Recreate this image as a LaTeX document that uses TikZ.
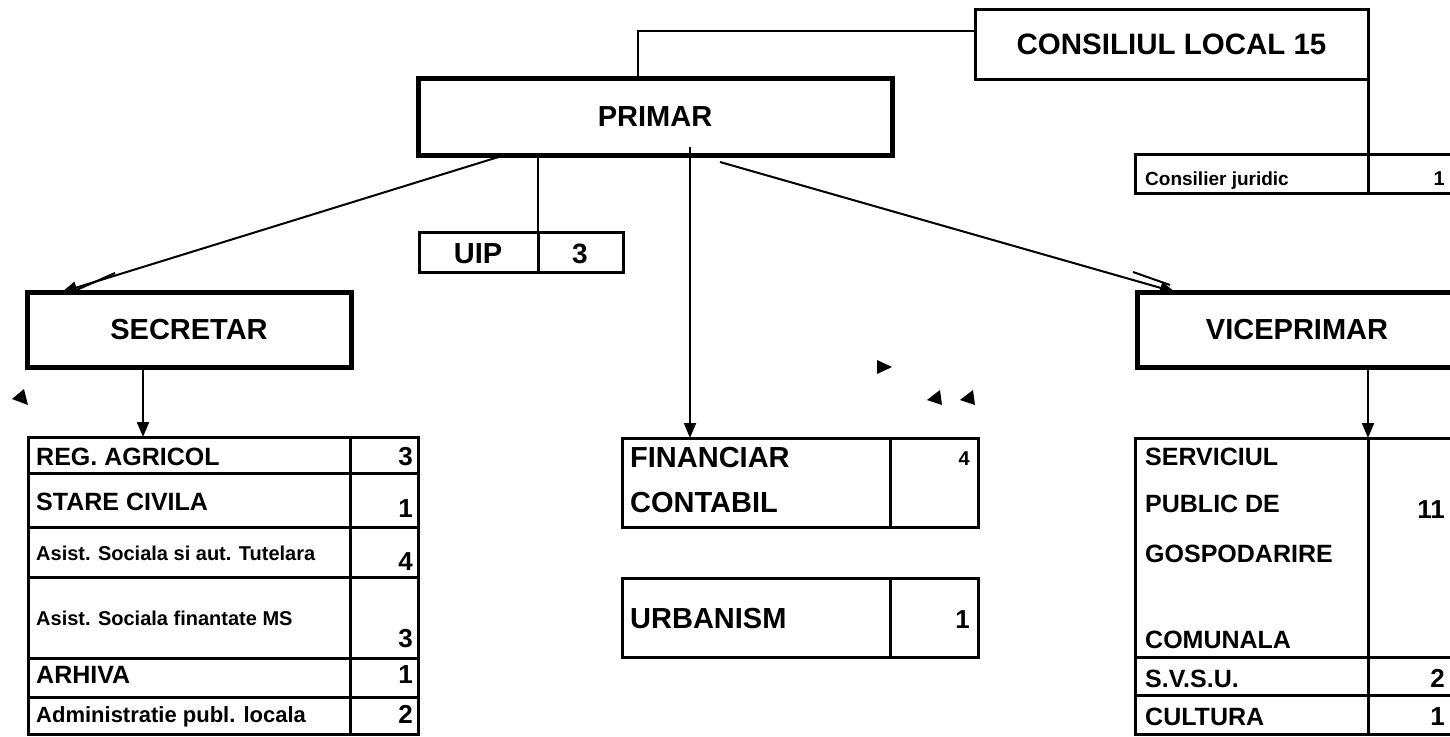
\documentclass[tikz,border=0pt]{standalone}
\usepackage{fontspec}
\setmainfont{Liberation Sans}
\usetikzlibrary{arrows.meta,calc}
\newcommand{\fsz}[1]{\bfseries\fontsize{#1}{#1}\selectfont}
\begin{document}
\begin{tikzpicture}[x=1pt,y=-1pt,
  cell/.style={draw, line width=3pt, rectangle, inner sep=0pt, outer sep=0pt, anchor=north west},
  bigbox/.style={draw, line width=5pt, rectangle, inner sep=0pt, outer sep=0pt, anchor=north west, font=\fsz{29}},
  conn/.style={line width=2pt},
  arr/.style={line width=2pt, -{Triangle[length=15pt,width=12pt]}},
  lt/.style={anchor=base west, inner sep=0pt},
  rt/.style={anchor=base east, inner sep=0pt},
  ct/.style={anchor=base, inner sep=0pt},
  stray/.style={fill=black}
]
\useasboundingbox (0,0) rectangle (1450,736);
\clip (0,0) rectangle (1450,736);

% top boxes
\node[cell, line width=3pt, minimum width=393pt, minimum height=70pt, font=\fsz{29.5}] (cons) at (975,9) {CONSILIUL LOCAL 15};
\node[bigbox, minimum width=474pt, minimum height=77pt] (primar) at (418,78) {PRIMAR};
\node[bigbox, minimum width=324pt, minimum height=75pt] (secr) at (27,292) {SECRETAR};
\node[bigbox, minimum width=320pt, minimum height=75pt] (vice) at (1137,292) {VICEPRIMAR};

% UIP
\node[cell, minimum width=119pt, minimum height=40pt] (uipa) at (419,232) {};
\node[cell, minimum width=85pt, minimum height=40pt] (uipb) at (538,232) {};
\node[ct, font=\fsz{29}] (uipt) at (478,263) {UIP};
\node[ct, font=\fsz{28}] (uipn) at (580,263) {3};

% Consilier juridic
\node[cell, minimum width=233pt, minimum height=39pt] (cja) at (1135,154) {};
\node[cell, minimum width=100pt, minimum height=39pt] (cjb) at (1368,154) {};
\node[lt, font=\fsz{19}] (cjt) at (1145,185) {Consilier juridic};
\node[rt, font=\fsz{20}] (cjn) at (1445,185) {1};

% left table
\node[cell, minimum width=322pt, minimum height=36pt] (l1a) at (28,437) {};
\node[cell, minimum width=68pt, minimum height=36pt] (l1b) at (350,437) {};
\node[cell, minimum width=322pt, minimum height=54pt] (l2a) at (28,473) {};
\node[cell, minimum width=68pt, minimum height=54pt] (l2b) at (350,473) {};
\node[cell, minimum width=322pt, minimum height=50pt] (l3a) at (28,527) {};
\node[cell, minimum width=68pt, minimum height=50pt] (l3b) at (350,527) {};
\node[cell, minimum width=322pt, minimum height=81pt] (l4a) at (28,577) {};
\node[cell, minimum width=68pt, minimum height=81pt] (l4b) at (350,577) {};
\node[cell, minimum width=322pt, minimum height=39pt] (l5a) at (28,658) {};
\node[cell, minimum width=68pt, minimum height=39pt] (l5b) at (350,658) {};
\node[cell, minimum width=322pt, minimum height=37pt] (l6a) at (28,697) {};
\node[cell, minimum width=68pt, minimum height=37pt] (l6b) at (350,697) {};
\node[lt, font=\fsz{25}] (t1) at (36,465) {REG. AGRICOL};
\node[rt, font=\fsz{26}] (n1) at (413,465) {3};
\node[lt, font=\fsz{25}] (t2) at (36,510) {STARE CIVILA};
\node[rt, font=\fsz{26}] (n2) at (413,517) {1};
\node[lt, font=\fsz{20}] (t3) at (36,560) {Asist. Sociala si aut. Tutelara};
\node[rt, font=\fsz{26}] (n3) at (413,570) {4};
\node[lt, font=\fsz{20}] (t4) at (36,625) {Asist. Sociala finantate MS};
\node[rt, font=\fsz{26}] (n4) at (413,647) {3};
\node[lt, font=\fsz{25}] (t5) at (36,683) {ARHIVA};
\node[rt, font=\fsz{26}] (n5) at (413,683) {1};
\node[lt, font=\fsz{22}] (t6) at (36,722) {Administratie publ. locala};
\node[rt, font=\fsz{26}] (n6) at (413,723) {2};

% middle tables
\node[cell, minimum width=268pt, minimum height=89pt] (fa) at (622,438) {};
\node[cell, minimum width=88pt, minimum height=89pt] (fb) at (890,438) {};
\node[cell, minimum width=268pt, minimum height=79pt] (ua) at (622,578) {};
\node[cell, minimum width=88pt, minimum height=79pt] (ub) at (890,578) {};
\node[lt, font=\fsz{29}] (ft1) at (630,467) {FINANCIAR};
\node[lt, font=\fsz{29}] (ft2) at (630,512) {CONTABIL};
\node[rt, font=\fsz{20}] (fn) at (970,465) {4};
\node[lt, font=\fsz{29}] (ut) at (630,628) {URBANISM};
\node[rt, font=\fsz{26}] (un) at (970,628) {1};

% right table
\node[cell, minimum width=233pt, minimum height=219pt] (r1a) at (1135,438) {};
\node[cell, minimum width=100pt, minimum height=219pt] (r1b) at (1368,438) {};
\node[cell, minimum width=233pt, minimum height=38pt] (r2a) at (1135,657) {};
\node[cell, minimum width=100pt, minimum height=38pt] (r2b) at (1368,657) {};
\node[cell, minimum width=233pt, minimum height=39pt] (r3a) at (1135,695) {};
\node[cell, minimum width=100pt, minimum height=39pt] (r3b) at (1368,695) {};
\node[lt, font=\fsz{25}] (s1) at (1145,465) {SERVICIUL};
\node[lt, font=\fsz{25}] (s2) at (1145,512) {PUBLIC DE};
\node[lt, font=\fsz{25}] (s3) at (1145,562) {GOSPODARIRE};
\node[lt, font=\fsz{25}] (s4) at (1145,648) {COMUNALA};
\node[rt, font=\fsz{26}] (sn) at (1445,518) {11};
\node[lt, font=\fsz{25}] (s5) at (1145,687) {S.V.S.U.};
\node[rt, font=\fsz{26}] (s5n) at (1445,687) {2};
\node[lt, font=\fsz{25}] (s6) at (1145,725) {CULTURA};
\node[rt, font=\fsz{26}] (s6n) at (1445,725) {1};

% connectors
\draw[conn] ($(cons.north west)+(0,22)$) -| ($(primar.north west)+(220,0)$);
\draw[line width=3pt] (cons.south east) -- (cja.north east);
\draw[conn] (uipa.north east |- primar.south) -- (uipa.north east);
\draw[arr] ($(primar.south west)+(87,0)$) -- ($(secr.north west)+(35,0)$);
\draw[arr] ($(primar.south west)+(302,7)$) -- ($(vice.north west)+(38,0)$);
\draw[arr] ($(primar.south west)+(272,-8)$) -- ($(fa.north west)+(68,0)$);
\draw[arr] ($(secr.south west)+(116,0)$) -- ($(l1a.north west)+(115,0)$);
\draw[arr] ($(vice.south west)+(231,0)$) -- (r1a.north east);
% artefact strokes beside the diagonal arrow heads
\draw[conn] ($(secr.north west)+(88,-19)$) -- ($(secr.north west)+(45,0)$);
\draw[conn] ($(vice.north west)+(-4,-20)$) -- ($(vice.north west)+(33,-7)$);

% stray arrow heads
\fill[stray] (24,389) -- (12,399) -- (28,405) -- cycle;
\fill[stray] (877,360) -- (877,374) -- (892,367) -- cycle;
\fill[stray] (927,400) -- (940,390) -- (942,405) -- cycle;
\fill[stray] (960,400) -- (973,390) -- (975,405) -- cycle;
\end{tikzpicture}
\end{document}
